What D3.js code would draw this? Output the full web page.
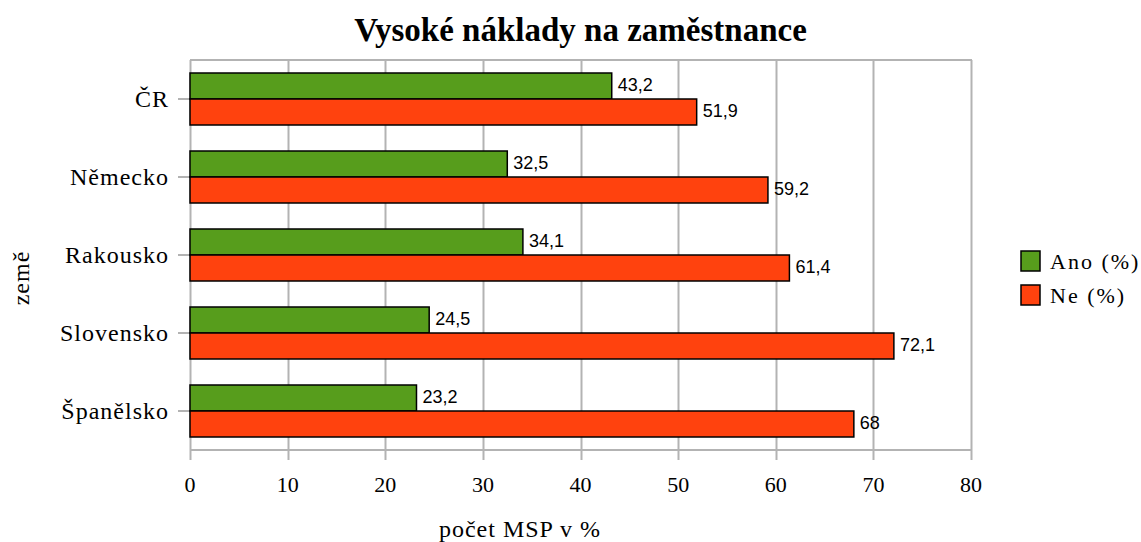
<!DOCTYPE html>
<html>
<head>
<meta charset="utf-8">
<script src="https://cdn.jsdelivr.net/npm/d3@7"></script>
<style>
  body { margin: 0; background: #fff; }
  svg { display: block; }
</style>
</head>
<body>
<script>
const countries = ['ČR', 'Německo', 'Rakousko', 'Slovensko', 'Španělsko'];
const anoValues = [43.2, 32.5, 34.1, 24.5, 23.2];
const neValues = [51.9, 59.2, 61.4, 72.1, 68];
const seriesNames = ['Ano (%)', 'Ne (%)'];
const xTicks = [0, 10, 20, 30, 40, 50, 60, 70, 80];

const width = 1141;
const height = 542;
const margin = { top: 60, right: 170, bottom: 92, left: 190 };
const serif = '"Liberation Serif", "Times New Roman", serif';
const sans = '"Liberation Sans", Arial, sans-serif';
const colors = ['#579d1c', '#ff420e'];
const gridColor = '#b3b3b3';

const svg = d3.select(document.body).append('svg')
  .attr('width', width)
  .attr('height', height);

const x = d3.scaleLinear()
  .domain([0, 80])
  .range([margin.left, width - margin.right]);

const y = d3.scaleBand()
  .domain(countries)
  .range([margin.top, height - margin.bottom]);

const inner = d3.scaleBand()
  .domain(seriesNames)
  .range([y.bandwidth() / 6, y.bandwidth() * 5 / 6]);

// vertical grid lines (and the tick marks below the plot)
svg.append('g')
  .selectAll('line')
  .data(xTicks)
  .join('line')
    .attr('x1', d => Math.round(x(d)) + 0.5)
    .attr('x2', d => Math.round(x(d)) + 0.5)
    .attr('y1', margin.top)
    .attr('y2', height - margin.bottom + 10)
    .attr('stroke', gridColor)
    .attr('stroke-width', 2);

// top and bottom frame
svg.append('g')
  .selectAll('line')
  .data([margin.top, height - margin.bottom])
  .join('line')
    .attr('x1', x(0))
    .attr('x2', x(80) + 1)
    .attr('y1', d => d)
    .attr('y2', d => d)
    .attr('stroke', gridColor)
    .attr('stroke-width', 2);

// category ticks
svg.append('g')
  .selectAll('line')
  .data(countries)
  .join('line')
    .attr('x1', x(0) - 12)
    .attr('x2', x(0))
    .attr('y1', d => y(d) + y.bandwidth() / 2)
    .attr('y2', d => y(d) + y.bandwidth() / 2)
    .attr('stroke', gridColor)
    .attr('stroke-width', 2);

// bars
const rows = countries.map((c, i) => ({ country: c, values: [anoValues[i], neValues[i]] }));

const group = svg.append('g')
  .selectAll('g')
  .data(rows)
  .join('g')
    .attr('transform', d => `translate(0,${y(d.country)})`);

group.selectAll('rect')
  .data(d => d.values.map((v, i) => ({ key: seriesNames[i], value: v, i: i })))
  .join('rect')
    .attr('x', x(0))
    .attr('y', d => inner(d.key))
    .attr('width', d => x(d.value) - x(0))
    .attr('height', inner.bandwidth())
    .attr('fill', d => colors[d.i])
    .attr('stroke', '#000')
    .attr('stroke-width', 1.5);

group.selectAll('text')
  .data(d => d.values.map((v, i) => ({ key: seriesNames[i], value: v })))
  .join('text')
    .attr('x', d => x(d.value) + 6)
    .attr('y', d => inner(d.key) + inner.bandwidth() / 2)
    .attr('dy', '0.28em')
    .style('font', `18px ${sans}`)
    .text(d => String(d.value).replace('.', ','));

// category labels
svg.append('g')
  .selectAll('text')
  .data(countries)
  .join('text')
    .attr('x', x(0) - 21)
    .attr('y', d => y(d) + y.bandwidth() / 2)
    .attr('dy', '0.33em')
    .attr('text-anchor', 'end')
    .style('font', `24px ${serif}`)
    .style('letter-spacing', '1px')
    .text(d => d);

// x tick labels
svg.append('g')
  .selectAll('text')
  .data(xTicks)
  .join('text')
    .attr('x', d => x(d))
    .attr('y', 492)
    .attr('text-anchor', 'middle')
    .style('font', `22px ${serif}`)
    .text(d => d);

// title and axis titles
svg.append('text')
  .attr('x', (x(0) + x(80)) / 2)
  .attr('y', 41)
  .attr('text-anchor', 'middle')
  .style('font', `bold 33px ${serif}`)
  .text('Vysoké náklady na zaměstnance');

svg.append('text')
  .attr('x', 520)
  .attr('y', 537)
  .attr('text-anchor', 'middle')
  .style('font', `24px ${serif}`)
  .style('letter-spacing', '1px')
  .text('počet MSP v %');

svg.append('text')
  .attr('transform', 'translate(29,278) rotate(-90)')
  .attr('text-anchor', 'middle')
  .style('font', `24px ${serif}`)
  .style('letter-spacing', '1px')
  .text('země');

// legend
const legend = svg.append('g')
  .selectAll('g')
  .data(seriesNames)
  .join('g')
    .attr('transform', (d, i) => `translate(1021,${251 + i * 34})`);

legend.append('rect')
  .attr('width', 19)
  .attr('height', 20)
  .attr('fill', (d, i) => colors[i])
  .attr('stroke', '#000')
  .attr('stroke-width', 1.5);

legend.append('text')
  .attr('x', 29)
  .attr('y', 18)
  .style('font', `22px ${serif}`)
  .style('letter-spacing', '2px')
  .text(d => d);
</script>
</body>
</html>
